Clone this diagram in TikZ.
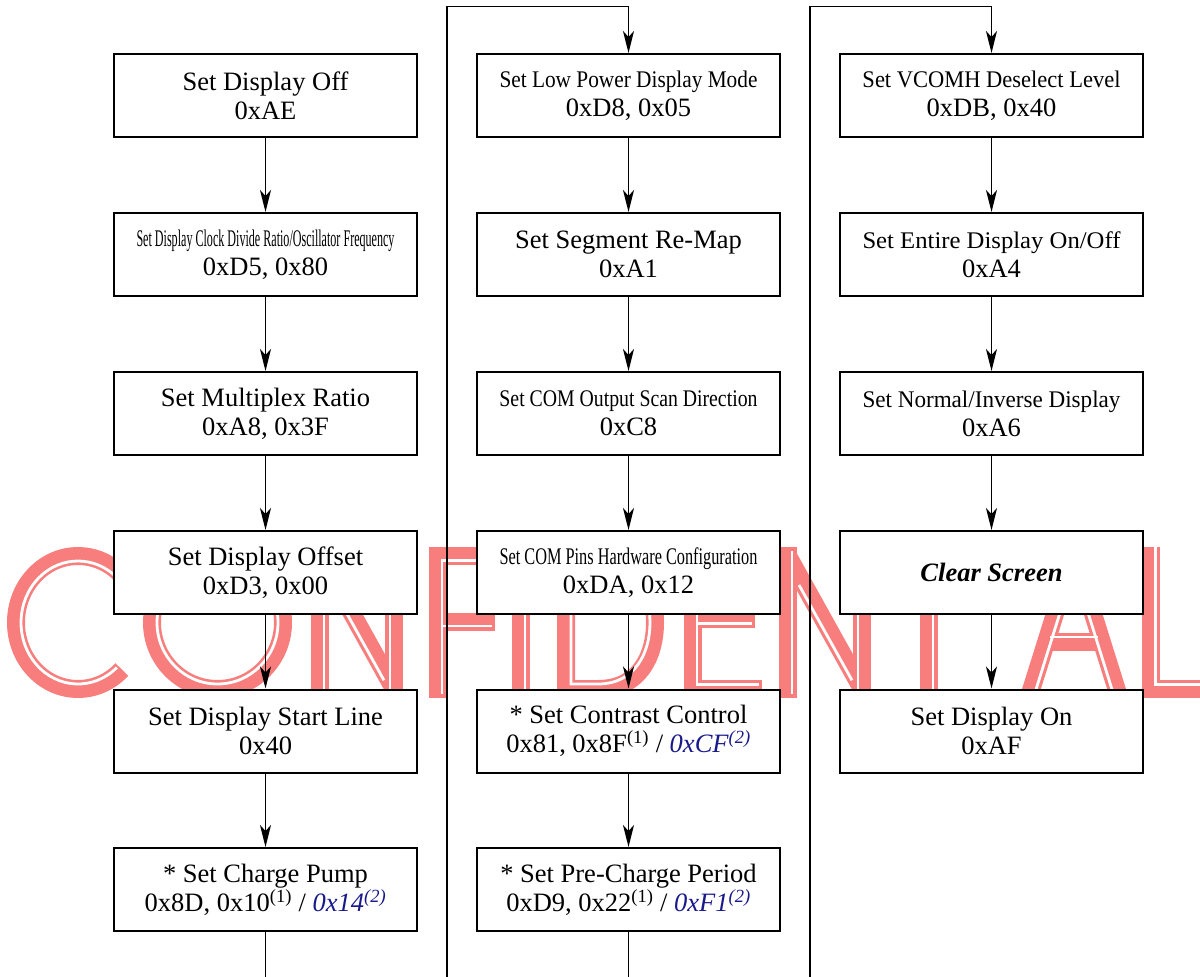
\documentclass[tikz,border=0pt]{standalone}
\usepackage{fontspec}
\setmainfont{Liberation Serif}
\usepackage{graphicx}
\usetikzlibrary{arrows.meta}
\definecolor{wmpink}{RGB}{248,125,125}
\definecolor{navyb}{RGB}{25,25,140}
\newsavebox\fitbox
\newcommand\fitline[1]{\sbox\fitbox{#1}\ifdim\wd\fitbox>258pt\relax\resizebox{258pt}{0.9\height}{\usebox\fitbox}\else\usebox\fitbox\fi}
\newcommand\bl[1]{\textcolor{navyb}{\itshape #1}}
\begin{document}
\begin{tikzpicture}[x=1pt,y=-1pt,
  box/.style={draw, line width=2pt, fill=white, minimum width=303pt, minimum height=83pt,
    inner sep=0pt, align=center, font=\fontsize{26.5}{29}\selectfont},
  conn/.style={line width=1.8pt},
  arr/.style={conn, -{Stealth[length=22pt,width=11pt,inset=6pt]}},
  wm/.style={draw=wmpink, line width=18pt, line cap=butt, line join=miter},
  wl/.style={draw=white, line width=2.8pt, line cap=butt, line join=miter}]
\useasboundingbox (0,0) rectangle (1200,977);
% watermark
\begin{scope}
\clip (0,547.5) rectangle (1200,697.5);
% pink strokes
\draw[wm] (78,622.5) ++(45:62 and 66.5) arc[start angle=45,end angle=315,x radius=62,y radius=66.5];
\draw[wm] (217.5,622.5) ellipse[x radius=65.5,y radius=66.5];
\foreach \s in {0,468}{
  \begin{scope}[xshift=\s pt]
  \draw[wm] (320,540) -- (320,705);
  \draw[wm] (394,540) -- (394,705);
  \draw[wm] (320,556) -- (394,689);
  \end{scope}}
\draw[wm] (512,556) -- (437.5,556) -- (437.5,705);
\draw[wm] (437.5,621.5) -- (495,621.5);
\draw[wm] (521,540) -- (521,705);
\draw[wm] (566,556) -- (598,556) .. controls (640,556) and (655,590) .. (655,622.5)
  .. controls (655,655) and (640,689) .. (598,689) -- (566,689) -- cycle;
\draw[wm] (757,556) -- (692.5,556) -- (692.5,689) -- (762,689);
\draw[wm] (692.5,619) -- (755,619);
\draw[wm] (929,540) -- (929,705);
\draw[wm] (883,556) -- (975,556);
\draw[wm] (1028,700) -- (1074,553) -- (1120,700);
\draw[wm] (1046,641.5) -- (1102,641.5);
\draw[wm] (1151,540) -- (1151,689) -- (1210,689);
% white inner lines
\draw[wl] (78,622.5) ++(47:57 and 61.5) arc[start angle=47,end angle=313,x radius=57,y radius=61.5];
\draw[wl] (217.5,622.5) ellipse[x radius=60.5,y radius=61.5];
\foreach \s in {0,468}{
  \begin{scope}[xshift=\s pt]
  \draw[wl] (324,551) -- (324,694);
  \draw[wl] (390,551) -- (390,694);
  \draw[wl] (331,585) -- (384,680.3);
  \end{scope}}
\draw[wl] (510,560.5) -- (442,560.5) -- (442,694);
\draw[wl] (442,626) -- (492,626);
\draw[wl] (525,551) -- (525,694);
\draw[wl] (571,561) -- (598,561) .. controls (635,561) and (650,592) .. (650,622.5)
  .. controls (650,653) and (635,684) .. (598,684) -- (571,684) -- cycle;
\draw[wl] (753,560.5) -- (697,560.5) -- (697,684.5) -- (759,684.5);
\draw[wl] (697,623.5) -- (752,623.5);
\draw[wl] (933,560) -- (933,694);
\draw[wl] (1032.7,700) -- (1074,568) -- (1115.3,700);
\draw[wl] (1050,637) -- (1098,637);
\draw[wl] (1155.5,545) -- (1155.5,684.5) -- (1210,684.5);
\end{scope}
% column 1
\node[box] (a1) at (265.5,95.5) {Set Display Off\\0xAE};
\node[box] (a2) at (265.5,254.5) {\fitline{Set Display Clock Divide Ratio/Oscillator Frequency}\\0xD5, 0x80};
\node[box] (a3) at (265.5,413.5) {Set Multiplex Ratio\\0xA8, 0x3F};
\node[box] (a4) at (265.5,572.5) {Set Display Offset\\0xD3, 0x00};
\node[box] (a5) at (265.5,731) {Set Display Start Line\\0x40};
\node[box] (a6) at (265.5,889.5) {* Set Charge Pump\\0x8D, 0x10\textsuperscript{(1)} / \bl{0x14\textsuperscript{(2)}}};
% column 2
\node[box] (b1) at (628.5,95.5) {\fitline{Set Low Power Display Mode}\\0xD8, 0x05};
\node[box] (b2) at (628.5,254.5) {Set Segment Re-Map\\0xA1};
\node[box] (b3) at (628.5,413.5) {\fitline{Set COM Output Scan Direction}\\0xC8};
\node[box] (b4) at (628.5,572.5) {\fitline{Set COM Pins Hardware Configuration}\\0xDA, 0x12};
\node[box] (b5) at (628.5,731) {* Set Contrast Control\\0x81, 0x8F\textsuperscript{(1)} / \bl{0xCF\textsuperscript{(2)}}};
\node[box] (b6) at (628.5,889.5) {* Set Pre-Charge Period\\0xD9, 0x22\textsuperscript{(1)} / \bl{0xF1\textsuperscript{(2)}}};
% column 3
\node[box] (c1) at (991.5,95.5) {\fitline{Set VCOMH Deselect Level}\\0xDB, 0x40};
\node[box] (c2) at (991.5,254.5) {\fitline{Set Entire Display On/Off}\\0xA4};
\node[box] (c3) at (991.5,413.5) {\fitline{Set Normal/Inverse Display}\\0xA6};
\node[box] (c4) at (991.5,572.5) {\bfseries\itshape Clear Screen};
\node[box] (c5) at (991.5,731) {Set Display On\\0xAF};
% connector coordinates
\coordinate (e1) at (265.5,977);
\coordinate (s2) at (447,977);
\coordinate (t2) at (447,6.5);
\coordinate (u2) at (628.5,6.5);
\coordinate (e2) at (628.5,977);
\coordinate (s3) at (810,977);
\coordinate (t3) at (810,6.5);
\coordinate (u3) at (991.5,6.5);
% connectors
\foreach \p/\q in {a1/a2,a2/a3,a3/a4,a4/a5,a5/a6,b1/b2,b2/b3,b3/b4,b4/b5,b5/b6,c1/c2,c2/c3,c3/c4,c4/c5}
  \draw[arr] (\p.south) -- (\q.north);
\draw[conn] (a6.south) -- (e1);
\draw[conn] (b6.south) -- (e2);
\draw[arr] (s2) -- (t2) -- (u2) -- (b1.north);
\draw[arr] (s3) -- (t3) -- (u3) -- (c1.north);
\end{tikzpicture}
\end{document}
